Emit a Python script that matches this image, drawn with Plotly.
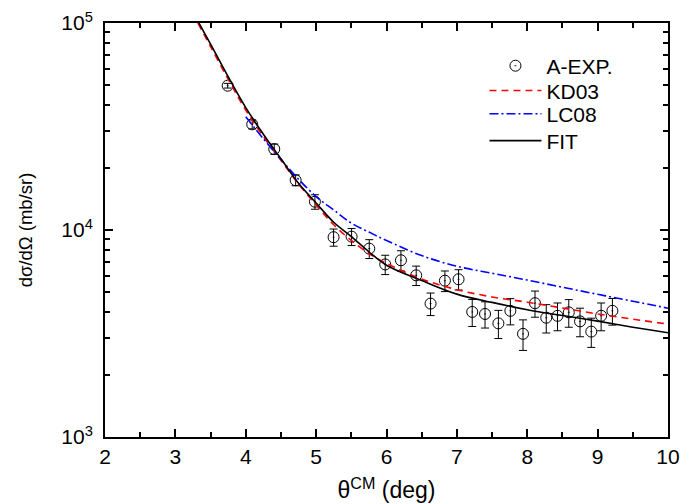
import plotly.graph_objects as go

# Experimental data
exp_theta = [3.743, 4.092, 4.405, 4.709, 4.983, 5.248, 5.504, 5.755, 5.982, 6.205,
             6.422, 6.626, 6.83, 7.024, 7.218, 7.40, 7.59, 7.76, 7.94, 8.11,
             8.27, 8.43, 8.59, 8.75, 8.91, 9.05, 9.21]
exp_xs = [49800, 32400, 24600, 17400, 13700, 9230, 9290, 8130, 6820, 7140,
          6040, 4410, 5690, 5780, 4020, 3930, 3540, 4070, 3150, 4430,
          3770, 3850, 4000, 3620, 3230, 3850, 4070]
exp_err = [1300, 1600, 1400, 1050, 1100, 880, 880, 850, 730, 800,
           650, 550, 650, 650, 600, 570, 550, 590, 530, 640,
           590, 590, 610, 570, 520, 590, 600]

# Curves
fit_theta = [3.335, 3.5, 3.75, 4.0, 4.25, 4.5, 4.75, 5.0, 5.25, 5.5, 5.75, 6.0,
             6.5, 7.0, 7.5, 8.0, 8.5, 9.0, 9.5, 10.0]
fit_xs = [100000, 79000, 55000, 39000, 29000, 22100, 16800, 13500, 10900, 9300, 7850, 6760,
          5700, 4900, 4470, 4120, 3860, 3630, 3390, 3190]

kd_theta = [3.32, 3.5, 3.75, 4.0, 4.25, 4.5, 4.75, 5.0, 5.25, 5.5, 5.75, 6.0,
            6.5, 7.0, 7.5, 8.0, 8.5, 9.0, 9.5, 10.0]
kd_xs = [100000, 77000, 53500, 38000, 28300, 21700, 16700, 13200, 10600, 8900, 7700, 6900,
         5800, 5150, 4750, 4480, 4200, 3930, 3710, 3510]

lc_theta = [4.0, 4.25, 4.5, 4.75, 5.0, 5.25, 5.5, 5.75, 6.0, 6.5, 7.0, 7.5,
            8.0, 8.5, 9.0, 9.5, 10.0]
lc_xs = [35200, 27600, 21900, 17600, 14500, 12500, 10800, 9770, 8900, 7520, 6680, 6180,
         5730, 5290, 4890, 4530, 4190]

x_ticks = [2, 3, 4, 5, 6, 7, 8, 9, 10]
y_ticks = [1e3, 1e4, 1e5]
y_ticktext = ["10<sup>3</sup>", "10<sup>4</sup>", "10<sup>5</sup>"]
y_minor = [m * 10 ** e for e in (3, 4) for m in range(2, 10)]

FONT = "Liberation Sans, Arial, sans-serif"

fig = go.Figure()
fig.add_trace(go.Scatter(
    x=exp_theta, y=exp_xs, mode="markers", name="A-EXP.", legend="legend",
    marker=dict(symbol="circle-open-dot", size=11, color="black", line=dict(width=1)),
    error_y=dict(type="data", array=exp_err, color="black", thickness=1, width=4),
))
fig.add_trace(go.Scatter(
    x=kd_theta, y=kd_xs, mode="lines", name="KD03", line_shape="spline", legend="legend2",
    line=dict(color="#ff0000", width=1.6, dash="7px,5px"),
))
fig.add_trace(go.Scatter(
    x=lc_theta, y=lc_xs, mode="lines", name="LC08", line_shape="spline", legend="legend3",
    line=dict(color="#0000ff", width=1.6, dash="9px,3px,2px,3px"),
))
fig.add_trace(go.Scatter(
    x=fit_theta, y=fit_xs, mode="lines", name="FIT", line_shape="spline", legend="legend4",
    line=dict(color="black", width=1.6),
))

axis_common = dict(
    showline=True, linecolor="black", linewidth=2, mirror="ticks",
    ticks="inside", ticklen=8, tickwidth=1.5, tickcolor="black",
    showgrid=False, zeroline=False, automargin=False,
    tickfont=dict(family=FONT, size=21, color="black"),
)

fig.update_xaxes(
    range=[2, 10], tickvals=x_ticks,
    minor=dict(dtick=0.5, tick0=2, ticks="inside", ticklen=5, tickwidth=1.5, tickcolor="black"),
    title=dict(text="θ<sup>CM</sup> (deg)", font=dict(family=FONT, size=23, color="black"), standoff=15),
    **axis_common,
)
fig.update_yaxes(
    type="log", range=[3, 5], tickvals=y_ticks, ticktext=y_ticktext, ticklabelstandoff=6,
    minor=dict(tickvals=y_minor, ticks="inside", ticklen=5, tickwidth=1.5, tickcolor="black"),
    title=dict(text="dσ/dΩ (mb/sr)", font=dict(family=FONT, size=18.5, color="black"), standoff=24),
    **axis_common,
)

leg_common = dict(
    x=0.674, xanchor="left", yanchor="middle",
    font=dict(family=FONT, size=21, color="black"),
    bgcolor="rgba(0,0,0,0)", itemwidth=52,
)
fig.update_layout(
    width=691, height=496,
    margin=dict(l=97, r=31, t=15, b=67),
    paper_bgcolor="white", plot_bgcolor="white",
    showlegend=True,
    legend=dict(y=0.896, **leg_common),
    legend2=dict(y=0.836, **leg_common),
    legend3=dict(y=0.78, **leg_common),
    legend4=dict(y=0.715, **leg_common),
)

fig.write_html("out.html")
